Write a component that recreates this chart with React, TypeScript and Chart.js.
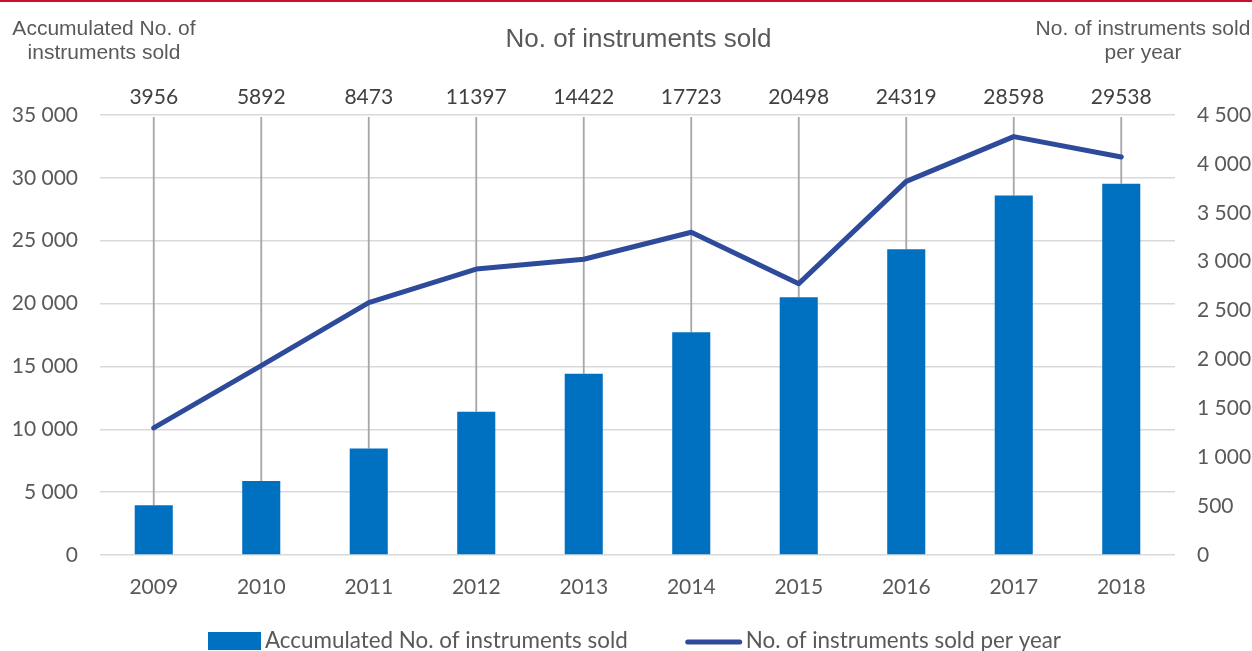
import React, { useEffect, useRef } from "react";
import { Chart, registerables } from "chart.js";

Chart.register(...registerables);

const years = ["2009", "2010", "2011", "2012", "2013", "2014", "2015", "2016", "2017", "2018"];
const accumulated = [3956, 5892, 8473, 11397, 14422, 17723, 20498, 24319, 28598, 29538];
const perYear = [1300, 1936, 2581, 2924, 3025, 3301, 2775, 3821, 4279, 4070];
const topLabels = ["3956", "5892", "8473", "11397", "14422", "17723", "20498", "24319", "28598", "29538"];

const mainTitle = "No. of instruments sold";
const leftTitle = ["Accumulated No. of", "instruments sold"];
const rightTitle = ["No. of instruments sold", "per year"];
const barLabel = "Accumulated No. of instruments sold";
const lineLabel = "No. of instruments sold per year";

const BAR_COLOR = "#0070c0";
const LINE_COLOR = "#2e4a9a";
const NUM_FONT = "Lato, 'Open Sans', sans-serif";
const TITLE_FONT = "'Liberation Sans', Arial, sans-serif";

const fmt = (v: number | string) => String(v).replace(/\B(?=(\d{3})+(?!\d))/g, " ");

const decorPlugin = {
  id: "decor",
  beforeDatasetsDraw(chart: any) {
    const { ctx, chartArea, scales } = chart;
    ctx.save();
    ctx.strokeStyle = "#a6a6a6";
    ctx.lineWidth = 1.8;
    accumulated.forEach((v, i) => {
      const x = scales.x.getPixelForValue(i);
      const y2 = scales.y.getPixelForValue(v);
      ctx.beginPath();
      ctx.moveTo(x, chartArea.top + 2);
      ctx.lineTo(x, y2);
      ctx.stroke();
    });
    ctx.restore();
  },
  afterDraw(chart: any) {
    const { ctx, chartArea, scales, width, height } = chart;
    ctx.save();
    // top red rule
    ctx.fillStyle = "#c8102e";
    ctx.fillRect(0, 0, width, 2);

    // data labels above chart area
    ctx.fillStyle = "#404040";
    ctx.font = `21px ${NUM_FONT}`;
    ctx.textAlign = "center";
    ctx.textBaseline = "middle";
    topLabels.forEach((t, i) => {
      const x = scales.x.getPixelForValue(i);
      ctx.fillText(t, x, chartArea.top - 18);
    });

    // titles
    ctx.fillStyle = "#595959";
    ctx.font = `26px ${TITLE_FONT}`;
    ctx.fillText(mainTitle, (chartArea.left + chartArea.right) / 2 + 1, 40);
    ctx.font = `21px ${TITLE_FONT}`;
    leftTitle.forEach((t, i) => ctx.fillText(t, 104, 29 + i * 24));
    rightTitle.forEach((t, i) => ctx.fillText(t, 1143, 29 + i * 24));

    // legend
    ctx.font = `22.4px ${NUM_FONT}`;
    ctx.textAlign = "left";
    const boxW = 53;
    const gapText = 4;
    const gapItems = 58;
    const w1 = boxW + gapText + ctx.measureText(barLabel).width;
    const w2 = 56 + gapText + ctx.measureText(lineLabel).width;
    const total = w1 + gapItems + w2;
    let x0 = (chartArea.left + chartArea.right) / 2 - total / 2 - 3;
    const cy = height - 10;
    ctx.fillStyle = BAR_COLOR;
    ctx.fillRect(x0, cy - 9, boxW, 18);
    ctx.fillStyle = "#595959";
    ctx.fillText(barLabel, x0 + boxW + gapText, cy);
    x0 += w1 + gapItems;
    ctx.strokeStyle = LINE_COLOR;
    ctx.lineWidth = 5;
    ctx.lineCap = "round";
    ctx.beginPath();
    ctx.moveTo(x0 + 2, cy + 1);
    ctx.lineTo(x0 + 54, cy + 1);
    ctx.stroke();
    ctx.fillText(lineLabel, x0 + 56 + gapText, cy);
    ctx.restore();
  },
};

export default function App() {
  const ref = useRef<HTMLCanvasElement | null>(null);
  useEffect(() => {
    document.body.style.margin = "0";
    if (!ref.current) return;
    const chart = new Chart(ref.current, {
      type: "bar",
      data: {
        labels: years,
        datasets: [
          {
            type: "line",
            label: lineLabel,
            data: perYear,
            yAxisID: "y1",
            borderColor: LINE_COLOR,
            backgroundColor: LINE_COLOR,
            borderWidth: 5,
            pointRadius: 0,
            tension: 0,
            borderCapStyle: "round",
            borderJoinStyle: "round",
            order: 0,
          } as any,
          {
            type: "bar",
            label: barLabel,
            data: accumulated,
            yAxisID: "y",
            backgroundColor: BAR_COLOR,
            barPercentage: 0.354,
            categoryPercentage: 1,
            order: 1,
          },
        ],
      },
      options: {
        responsive: false,
        animation: false,
        layout: { padding: { top: 115, left: 0, right: 0, bottom: 0 } },
        plugins: {
          legend: { display: false },
          title: { display: false },
          tooltip: { enabled: false },
        },
        scales: {
          x: {
            grid: { display: false, drawTicks: false },
            border: { display: false },
            ticks: { color: "#595959", font: { family: NUM_FONT, size: 21 }, padding: 20 },
            afterFit: (s: any) => {
              s.height = 96;
            },
          },
          y: {
            position: "left",
            min: 0,
            max: 35000,
            grid: { color: "#d9d9d9", lineWidth: 1.5, drawTicks: false },
            border: { display: false },
            ticks: {
              stepSize: 5000,
              padding: 22,
              color: "#595959",
              font: { family: NUM_FONT, size: 21 },
              callback: (v: any) => fmt(v),
            },
            afterFit: (s: any) => {
              s.width = 100;
            },
          },
          y1: {
            position: "right",
            min: 0,
            max: 4500,
            grid: { display: false, drawTicks: false },
            border: { display: false },
            ticks: {
              stepSize: 500,
              padding: 22,
              color: "#595959",
              font: { family: NUM_FONT, size: 21 },
              callback: (v: any) => fmt(v),
            },
            afterFit: (s: any) => {
              s.width = 77;
            },
          },
        },
      },
      plugins: [decorPlugin],
    });
    return () => chart.destroy();
  }, []);
  return (
    <canvas ref={ref} width={1252} height={651} style={{ display: "block" }} />
  );
}
